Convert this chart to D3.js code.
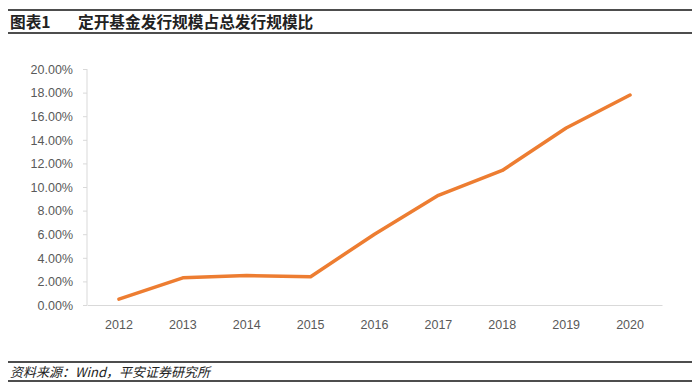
<!DOCTYPE html>
<html>
<head>
<meta charset="utf-8">
<script src="https://cdn.jsdelivr.net/npm/d3@7"></script>
<style>
    body { margin: 0; background: #fff; }
    svg { display: block; }
    .axis text { font-family: "Liberation Sans", Arial, sans-serif; font-size: 12.5px; fill: #595959; }
</style>
</head>
<body>
<div id="chart"></div>
<script>
// -------- data --------
const years = ["2012", "2013", "2014", "2015", "2016", "2017", "2018", "2019", "2020"]
const ratio = [0.005, 0.023, 0.025, 0.024, 0.060, 0.093, 0.114, 0.150, 0.178]
const yTicks = [0, 0.02, 0.04, 0.06, 0.08, 0.10, 0.12, 0.14, 0.16, 0.18, 0.20]

const conf = {
    width: 700,
    height: 390,
    plotLeft: 87,
    plotRight: 662,
    plotTop: 69,
    plotBottom: 305
}

let svg = d3.select("#chart").append("svg")
    .attr("width", conf.width)
    .attr("height", conf.height)

// header / footer rules
let rules = [10, 33, 362, 381]
svg.append("g").selectAll("line")
    .data(rules)
    .join("line")
    .attr("x1", 8)
    .attr("x2", 692)
    .attr("y1", d => d)
    .attr("y2", d => d)
    .attr("stroke", "#4d4d4d")
    .attr("stroke-width", 2)

const cjk = '"Noto Sans CJK SC", "Noto Sans", sans-serif'

svg.append("text")
    .attr("x", 10)
    .attr("y", 28)
    .attr("font-family", cjk)
    .attr("font-size", 15.7)
    .attr("font-weight", "bold")
    .attr("fill", "#222")
    .text("图表1")

svg.append("text")
    .attr("x", 78)
    .attr("y", 28)
    .attr("font-family", cjk)
    .attr("font-size", 15.7)
    .attr("font-weight", "bold")
    .attr("fill", "#222")
    .text("定开基金发行规模占总发行规模比")

svg.append("text")
    .attr("x", 10)
    .attr("y", 377)
    .attr("font-family", cjk)
    .attr("font-size", 13)
    .attr("font-style", "italic")
    .attr("fill", "#222")
    .text("资料来源：Wind，平安证券研究所")

// -------- scales --------
let x = d3.scaleBand().domain(years).range([conf.plotLeft, conf.plotRight])
let y = d3.scaleLinear().domain([0, 0.2]).range([conf.plotBottom, conf.plotTop])

// -------- axes --------
let yAxis = d3.axisLeft(y)
    .tickValues(yTicks)
    .tickFormat(d3.format(".2%"))
    .tickSize(4)
    .tickPadding(10)

svg.append("g")
    .attr("class", "y axis")
    .attr("transform", "translate(" + conf.plotLeft + ",0)")
    .call(yAxis)
    .call(g => g.select(".domain").attr("stroke", "#d9d9d9").attr("d", "M0," + conf.plotTop + "V" + conf.plotBottom))
    .call(g => g.selectAll(".tick line").attr("stroke", "#d9d9d9"))
    .call(g => g.selectAll(".tick text").attr("dy", "0.35em"))

let xAxis = d3.axisBottom(x)
    .tickSize(0)
    .tickPadding(15)

svg.append("g")
    .attr("class", "x axis")
    .attr("transform", "translate(0," + conf.plotBottom + ")")
    .call(xAxis)
    .call(g => g.select(".domain").attr("stroke", "#d9d9d9"))

// -------- line --------
let line = d3.line()
    .x((d, i) => x(years[i]) + x.bandwidth() / 2)
    .y(d => y(d))

svg.append("path")
    .datum(ratio)
    .attr("fill", "none")
    .attr("stroke", "#ED7D31")
    .attr("stroke-width", 3.5)
    .attr("stroke-linejoin", "round")
    .attr("stroke-linecap", "round")
    .attr("d", line)
</script>
</body>
</html>
